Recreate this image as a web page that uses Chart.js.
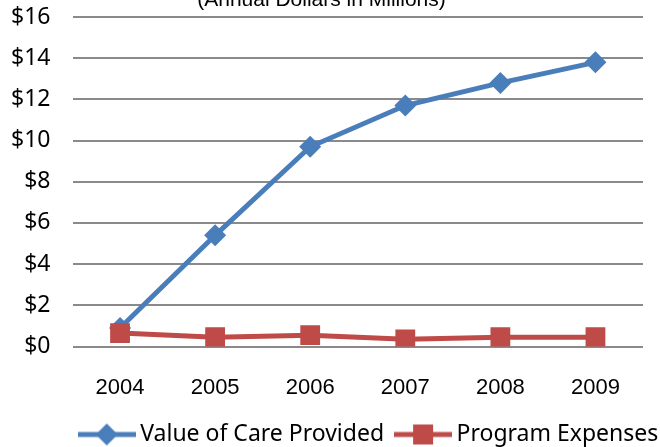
<!DOCTYPE html>
<html>
<head>
<meta charset="utf-8">
<script src="https://cdn.jsdelivr.net/npm/chart.js@4"></script>
<style>
  html, body { margin: 0; padding: 0; background: #fff; overflow: hidden; }
  #wrap { width: 660px; height: 447px; overflow: hidden; position: relative; }
  #chart { position: absolute; left: 0; top: -20px; }
</style>
</head>
<body>
<div id="wrap"><canvas id="chart" width="660" height="476"></canvas></div>
<script>
const years = ['2004', '2005', '2006', '2007', '2008', '2009'];
const careValue = [0.9, 5.4, 9.7, 11.7, 12.8, 13.8];
const programExpenses = [0.65, 0.45, 0.55, 0.35, 0.45, 0.45];
const yTicks = [0, 2, 4, 6, 8, 10, 12, 14, 16];

const BLUE = '#4A7EBB';
const RED = '#BE4B48';
const ARIAL = '"Liberation Sans", Arial, sans-serif';
const BODY = '"Noto Sans", "Open Sans", sans-serif';

// legend icons: a short line with the marker in the middle, like Excel
function legendIcon(color, shape) {
    const c = document.createElement('canvas');
    c.width = 58; c.height = 24;
    const g = c.getContext('2d');
    g.strokeStyle = color;
    g.lineWidth = 5;
    g.beginPath(); g.moveTo(0, 12); g.lineTo(58, 12); g.stroke();
    g.fillStyle = color;
    g.beginPath();
    if (shape === 'diamond') {
        g.moveTo(29, 1); g.lineTo(40, 12); g.lineTo(29, 23); g.lineTo(18, 12);
    } else {
        g.rect(19, 2, 20, 20);
    }
    g.closePath(); g.fill();
    return c;
}
const icons = [legendIcon(BLUE, 'diamond'), legendIcon(RED, 'square')];

// Excel puts the legend a bit right of centre
const legendShift = {
    id: 'legendShift',
    afterLayout(chart) {
        chart.legend.left += 50;
        chart.legend.right += 50;
    }
};

new Chart(document.getElementById('chart'), {
    type: 'line',
    data: {
        labels: years,
        datasets: [
            {
                label: 'Value of Care Provided',
                data: careValue,
                borderColor: BLUE,
                backgroundColor: BLUE,
                borderWidth: 5,
                pointStyle: 'rectRot',
                pointRadius: 11,
                pointBorderWidth: 0,
                tension: 0,
                order: 1
            },
            {
                label: 'Program Expenses',
                data: programExpenses,
                borderColor: RED,
                backgroundColor: RED,
                borderWidth: 5,
                pointStyle: 'rect',
                pointRadius: 14,
                pointBorderWidth: 0,
                tension: 0,
                order: 0
            }
        ]
    },
    plugins: [legendShift],
    options: {
        responsive: false,
        animation: false,
        layout: { padding: { left: 0, right: 17, top: 0, bottom: 0 } },
        plugins: {
            tooltip: { enabled: false },
            title: {
                display: true,
                text: '(Annual Dollars in Millions)',
                color: '#000',
                font: { family: ARIAL, size: 21, weight: 'normal', lineHeight: 1.43 },
                padding: { top: 5, bottom: 2 }
            },
            legend: {
                position: 'bottom',
                labels: {
                    usePointStyle: true,
                    pointStyleWidth: 44,
                    padding: 17,
                    color: '#000',
                    font: { family: BODY, size: 23 },
                    generateLabels(chart) {
                        return chart.data.datasets.map((ds, i) => ({
                            text: ds.label,
                            pointStyle: icons[i],
                            fillStyle: ds.borderColor,
                            strokeStyle: ds.borderColor,
                            lineWidth: 0,
                            hidden: false,
                            datasetIndex: i
                        }));
                    }
                }
            }
        },
        scales: {
            x: {
                offset: true,
                grid: { display: false, drawTicks: false },
                border: { display: false },
                afterFit(scale) { scale.height = 59.5; },
                ticks: {
                    padding: 28,
                    color: '#000',
                    font: { family: ARIAL, size: 22 }
                }
            },
            y: {
                min: yTicks[0],
                max: yTicks[yTicks.length - 1],
                afterBuildTicks(scale) {
                    scale.ticks = yTicks.map(v => ({ value: v }));
                },
                afterFit(scale) { scale.width = 72.5; },
                grid: { color: '#8a8a8a', lineWidth: 2, drawTicks: false },
                border: { display: false },
                ticks: {
                    padding: 22,
                    color: '#000',
                    font: { family: BODY, size: 23 },
                    callback: v => '$' + v
                }
            }
        }
    }
});
</script>
</body>
</html>
